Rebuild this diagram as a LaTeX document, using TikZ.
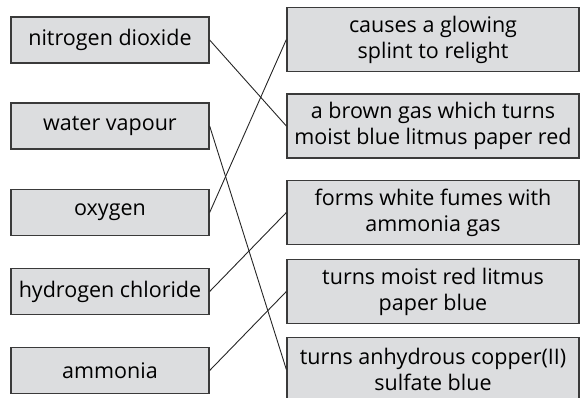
\documentclass[tikz,border=0pt]{standalone}
\usepackage{fontspec}
\setmainfont{Open Sans}
\usepackage{tikz}
\usetikzlibrary{positioning}
\definecolor{boxfill}{HTML}{DCDDDF}
\definecolor{boxline}{HTML}{3A3A3A}

\begin{document}
\begin{tikzpicture}[
   x=1pt,y=-1pt,
   gas/.style={draw=boxline,line width=1.3pt,fill=boxfill,inner sep=0pt,
               minimum width=198pt,minimum height=46pt,font=\fontsize{21.5}{26}\selectfont},
   prop/.style={draw=boxline,line width=1.3pt,fill=boxfill,inner sep=0pt,
               minimum width=292pt,minimum height=64pt,align=center,
               font=\fontsize{21.5}{26}\selectfont},
   link/.style={line width=0.9pt,draw=black!85}
 ]
  \useasboundingbox (0,0) rectangle (580,397);
  \clip (0,0) rectangle (580,397);
  % substances
  \node[gas] (no2) at (110,40) {nitrogen dioxide};
  \node[gas] (water) at (110,126) {water vapour};
  \node[gas] (oxy) at (110,212.5) {oxygen};
  \node[gas] (hcl) at (110,291.5) {hydrogen chloride};
  \node[gas] (nh3) at (110,370.5) {ammonia};
  % properties
  \node[prop] (splint) at (433,39.5) {causes a glowing\\splint to relight};
  \node[prop] (brown) at (433,126) {a brown gas which turns\\moist blue litmus paper red};
  \node[prop] (fumes) at (433,212.5) {forms white fumes with\\ammonia gas};
  \node[prop] (litmus) at (433,291.5) {turns moist red litmus\\paper blue};
  \node[prop] (copper) at (433,369.5) {turns anhydrous copper(II)\\sulfate blue};
  % matching lines
  \draw[link] (no2.east) -- (brown.west);
  \draw[link] (water.east) -- (copper.west);
  \draw[link] (oxy.east) -- (splint.west);
  \draw[link] (hcl.east) -- (fumes.west);
  \draw[link] (nh3.east) -- (litmus.west);
 \end{tikzpicture}
\end{document}
